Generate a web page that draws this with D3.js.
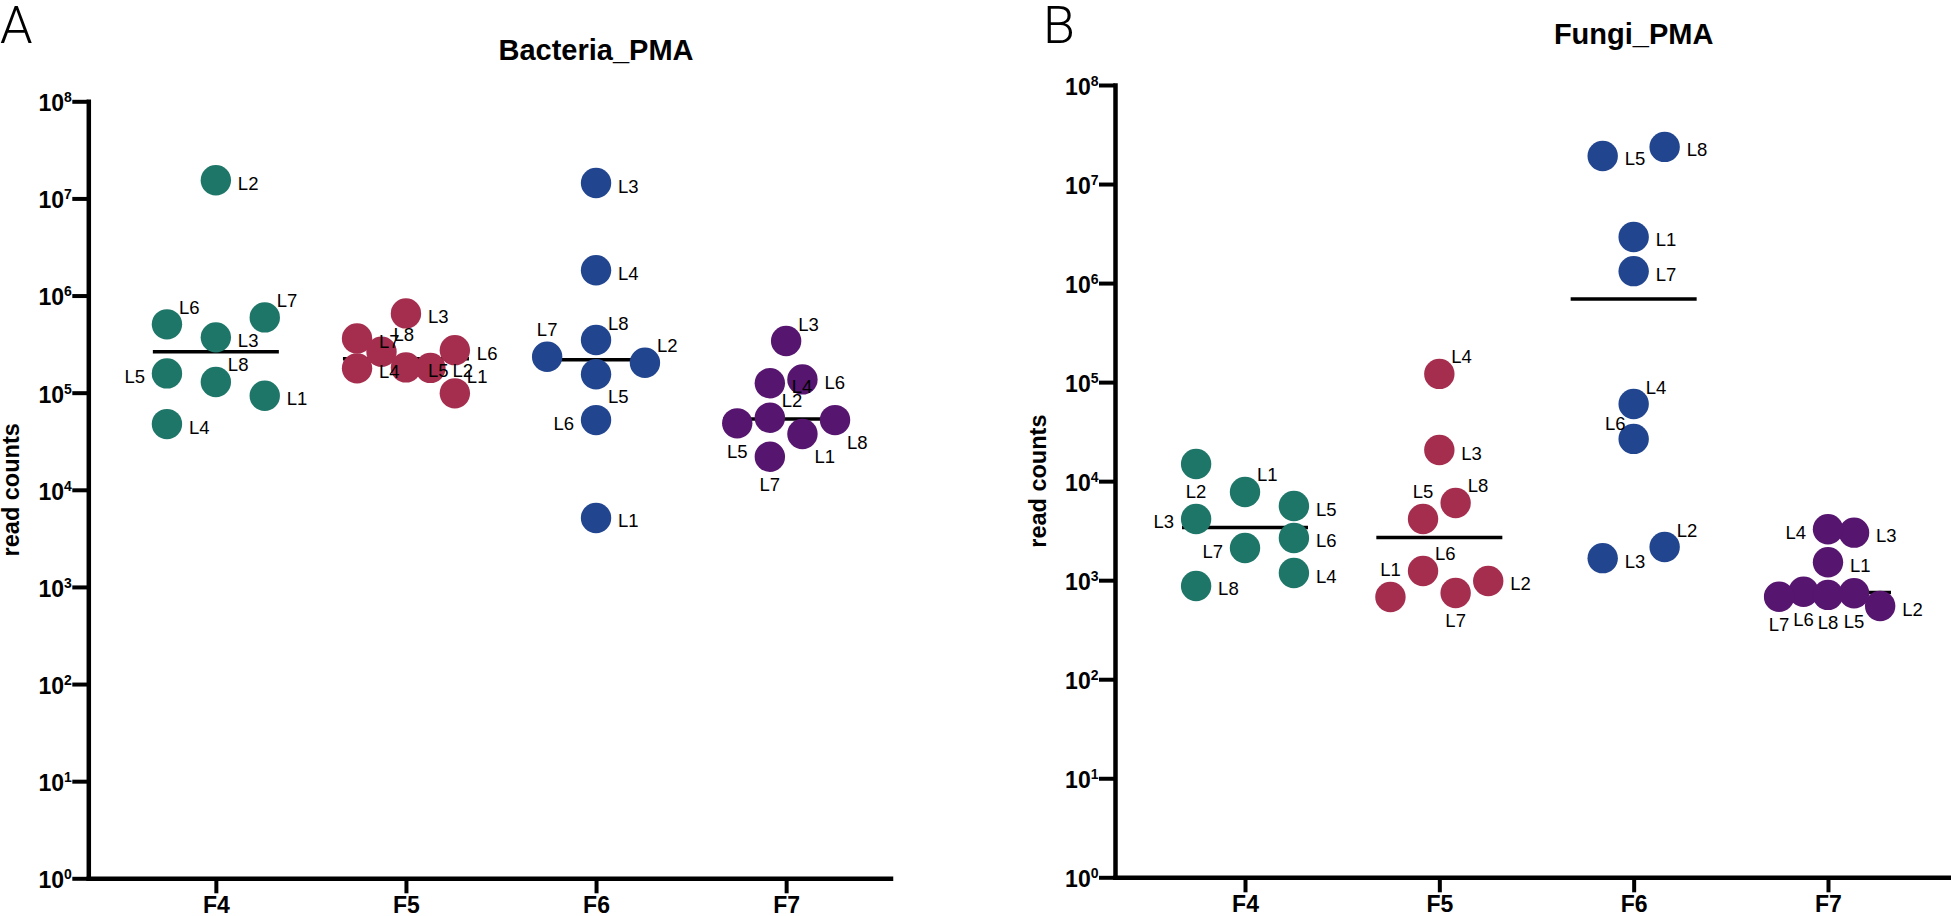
<!DOCTYPE html>
<html>
<head>
<meta charset="utf-8">
<script src="https://cdn.jsdelivr.net/npm/d3@7"></script>
<style>
  html, body { margin: 0; padding: 0; background: #ffffff; }
  svg { display: block; }
</style>
</head>
<body>
<svg id="chart" width="1951" height="916"></svg>
<script>
// ---------------- DATA ----------------
const categories = ["F4", "F5", "F6", "F7"];
const lineIds = ["L1", "L2", "L3", "L4", "L5", "L6", "L7", "L8"];
const yTickValues = [1, 10, 100, 1e3, 1e4, 1e5, 1e6, 1e7, 1e8];
const yTickExponents = ["0", "1", "2", "3", "4", "5", "6", "7", "8"];
const groupColors = ["#1e7669", "#a52e4e", "#22458f", "#56156f"];

// Bacteria_PMA read counts, values for L1..L8
const bacteriaF4 = [9.3e4, 1.54e7, 3.71e5, 4.75e4, 1.58e5, 5.05e5, 5.96e5, 1.29e5];
const bacteriaF5 = [9.84e4, 1.80e5, 6.55e5, 1.78e5, 1.82e5, 2.74e5, 3.62e5, 2.64e5];
const bacteriaF6 = [5.13e3, 2.03e5, 1.44e7, 1.82e6, 1.55e5, 5.22e4, 2.34e5, 3.48e5];
const bacteriaF7 = [3.75e4, 5.52e4, 3.40e5, 1.25e5, 4.83e4, 1.37e5, 2.19e4, 5.22e4];

// Fungi_PMA read counts, values for L1..L8
const fungiF4 = [7.78e3, 1.49e4, 4.15e3, 1.18e3, 5.61e3, 2.67e3, 2.11e3, 8.74e2];
const fungiF5 = [6.77e2, 9.82e2, 2.06e4, 1.21e5, 4.15e3, 1.24e3, 7.43e2, 6.02e3];
const fungiF6 = [2.92e6, 2.16e3, 1.67e3, 6.01e4, 1.92e7, 2.67e4, 1.32e6, 2.37e7];
const fungiF7 = [1.52e3, 5.48e2, 3.02e3, 3.27e3, 7.38e2, 7.65e2, 6.81e2, 7.10e2];

// ---------------- LAYOUT HINTS (swarm columns & label sides) ----------------
const bacteriaSwarm = [
  [3, 0, 0, -3, -3, -3, 3, 0],
  [3, 1.5, 0, -3, 0, 3, -3, -1.5],
  [0, 3, 0, 0, 0, 0, -3, 0],
  [1, -1, 0, -1, -3, 1, -1, 3]
];
const fungiSwarm = [
  [0, -3, -3, 3, 3, 3, 0, -3],
  [-3, 3, 0, 0, -1, -1, 1, 1],
  [0, 1.9, -1.9, 0, -1.9, 0, 0, 1.9],
  [0, 3.2, 1.6, 0, 1.6, -1.5, -3, 0]
];
const bacteriaLabelSide = [
  ["E", "E", "E", "E", "W", "NE", "NE", "NE"],
  ["NE", "E", "E", "E", "E", "E", "E", "NE"],
  ["E", "NE", "E", "E", "SE", "W", "N", "NE"],
  ["SE", "NE", "NE", "E", "S", "E", "S", "SE"]
];
const fungiLabelSide = [
  ["NE", "S", "W", "E", "E", "E", "W", "E"],
  ["N", "E", "E", "NE", "N", "NE", "S", "NE"],
  ["E", "NE", "E", "NE", "E", "NW", "E", "E"],
  ["E", "E", "E", "W", "S", "S", "S", "S"]
];

// ---------------- DRAWING ----------------
const FONT = "'Liberation Sans', Arial, Helvetica, sans-serif";
const svg = d3.select("#chart");

const labelOffsets = {
  E:  { dx: 22,  dy: 3,   anchor: "start" },
  W:  { dx: -22, dy: 3,   anchor: "end" },
  NE: { dx: 12,  dy: -17, anchor: "start" },
  SE: { dx: 12,  dy: 22,  anchor: "start" },
  NW: { dx: -8,  dy: -15, anchor: "end" },
  SW: { dx: -10, dy: 22,  anchor: "end" },
  N:  { dx: 0,   dy: -27, anchor: "middle" },
  S:  { dx: 0,   dy: 28,  anchor: "middle" }
};

function drawPanel(cfg) {
  const g = svg.append("g");
  const x = d3.scaleLinear().domain(cfg.xDomain).range(cfg.xRange);
  const y = d3.scaleLog().domain([1, 1e8]).range(cfg.yRange);
  const axisX0 = cfg.xRange[0];
  const axisY0 = cfg.yRange[0];

  // panel letter
  g.append("text")
    .attr("x", cfg.letterX).attr("y", 43)
    .attr("font-family", "Roboto, 'Liberation Sans', sans-serif")
    .attr("font-weight", 300)
    .attr("font-size", 52)
    .attr("fill", "#000")
    .text(cfg.letter);

  // title
  g.append("text")
    .attr("x", x(2)).attr("y", cfg.titleY)
    .attr("text-anchor", "middle")
    .attr("font-family", FONT)
    .attr("font-weight", "bold")
    .attr("font-size", 29)
    .attr("fill", "#000")
    .text(cfg.title);

  // y axis title
  const midY = (cfg.yRange[0] + cfg.yRange[1]) / 2;
  g.append("text")
    .attr("transform", `translate(${axisX0 - 69.5},${midY}) rotate(-90)`)
    .attr("text-anchor", "middle")
    .attr("font-family", FONT)
    .attr("font-weight", "bold")
    .attr("font-size", 23.5)
    .attr("fill", "#000")
    .text("read counts");

  // y axis
  const yAxis = d3.axisLeft(y).tickValues(yTickValues).tickSize(16).tickSizeOuter(0).tickPadding(0);
  const gy = g.append("g").attr("transform", `translate(${axisX0},0)`).call(yAxis);
  gy.select(".domain").attr("stroke", "#000").attr("stroke-width", 4.5).attr("stroke-linecap", "square");
  gy.selectAll(".tick line").attr("stroke", "#000").attr("stroke-width", 4);
  gy.selectAll(".tick text").each(function(d, i) {
    const t = d3.select(this);
    t.text(null)
      .attr("dy", null)
      .attr("y", 9.4)
      .attr("x", -16.5)
      .attr("text-anchor", "end")
      .attr("font-family", FONT)
      .attr("font-weight", "bold")
      .attr("font-size", 23)
      .attr("fill", "#000");
    t.append("tspan").text("10");
    t.append("tspan").attr("font-size", 14).attr("dy", -9).text(yTickExponents[i]);
  });

  // x axis
  const xAxis = d3.axisBottom(x).tickValues([0, 1, 2, 3])
    .tickFormat(i => categories[i]).tickSize(15).tickSizeOuter(0);
  const gx = g.append("g").attr("transform", `translate(0,${axisY0})`).call(xAxis);
  gx.select(".domain").attr("stroke", "#000").attr("stroke-width", 4.5).attr("stroke-linecap", "square");
  gx.selectAll(".tick line").attr("stroke", "#000").attr("stroke-width", 4);
  gx.selectAll(".tick text")
    .attr("y", 35).attr("dy", null)
    .attr("font-family", FONT)
    .attr("font-weight", "bold")
    .attr("font-size", 23)
    .attr("fill", "#000");

  // median lines (behind points)
  cfg.groups.forEach((vals, i) => {
    const m = d3.median(vals);
    g.append("line")
      .attr("x1", x(i) - 63).attr("x2", x(i) + 63)
      .attr("y1", y(m)).attr("y2", y(m))
      .attr("stroke", "#000").attr("stroke-width", 3.5);
  });

  const unit = 16.3;
  const pts = [];
  cfg.groups.forEach((vals, i) => {
    vals.forEach((v, j) => {
      pts.push({
        cx: x(i) + cfg.swarm[i][j] * unit,
        cy: y(v),
        color: groupColors[i],
        label: lineIds[j],
        side: cfg.sides[i][j]
      });
    });
  });

  g.append("g").selectAll("circle").data(pts).join("circle")
    .attr("cx", d => d.cx).attr("cy", d => d.cy)
    .attr("r", 15.2)
    .attr("fill", d => d.color);

  g.append("g").selectAll("text").data(pts).join("text")
    .attr("x", d => d.cx + labelOffsets[d.side].dx)
    .attr("y", d => d.cy + labelOffsets[d.side].dy + 6.5)
    .attr("text-anchor", d => labelOffsets[d.side].anchor)
    .attr("font-family", FONT)
    .attr("font-size", 18.5)
    .attr("fill", "#000")
    .text(d => d.label);
}

drawPanel({
  letter: "A", letterX: 0,
  title: "Bacteria_PMA", titleY: 60,
  xDomain: [-0.671, 3.549], xRange: [88.3, 890.5],
  yRange: [878.3, 101.3],
  groups: [bacteriaF4, bacteriaF5, bacteriaF6, bacteriaF7],
  swarm: bacteriaSwarm,
  sides: bacteriaLabelSide
});

drawPanel({
  letter: "B", letterX: 1043,
  title: "Fungi_PMA", titleY: 43.5,
  xDomain: [-0.669, 3.633], xRange: [1115, 1951],
  yRange: [877.3, 85],
  groups: [fungiF4, fungiF5, fungiF6, fungiF7],
  swarm: fungiSwarm,
  sides: fungiLabelSide
});
</script>
</body>
</html>
